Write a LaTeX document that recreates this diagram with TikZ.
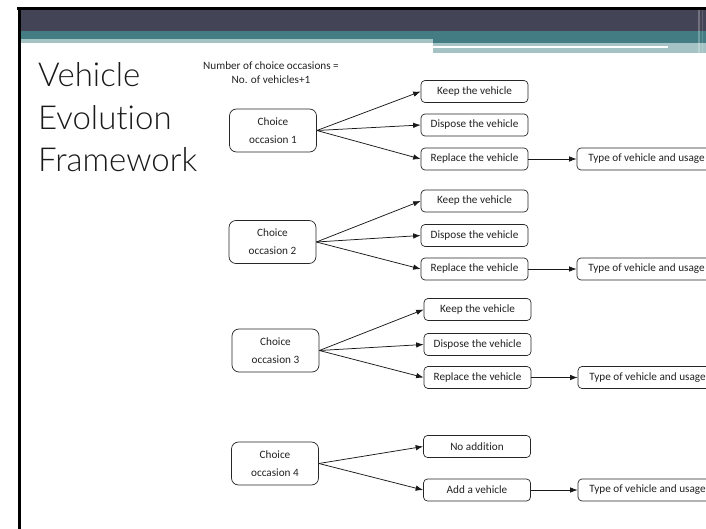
\documentclass[tikz,border=0pt]{standalone}
\usepackage{fontspec}
\setmainfont{Carlito}[Ligatures=NoCommon]
\newfontfamily\titlefont{Lato}[UprightFont=* Light, Ligatures=NoCommon]
\usetikzlibrary{arrows.meta}
\definecolor{banddark}{HTML}{434455}
\definecolor{bandteal}{HTML}{437D83}
\definecolor{bandlight}{HTML}{A5C3C5}
\definecolor{inkgray}{HTML}{222222}
\tikzset{
  optbox/.style={draw=black!85, line width=0.7pt, rounded corners=4pt, fill=white,
    minimum width=107pt, minimum height=22pt, inner sep=0pt, text=inkgray,
    font=\fontsize{11.2}{13}\selectfont},
  typebox/.style={optbox, minimum width=139pt},
  choicebox/.style={draw=black!85, line width=0.7pt, rounded corners=7pt, fill=white,
    minimum width=87pt, minimum height=43pt, inner sep=0pt, align=center, text=inkgray,
    font=\fontsize{11.2}{18}\selectfont},
  link/.style={-{Latex[length=7.5pt,width=5.5pt]}, line width=0.75pt, draw=black!90}
}
\begin{document}
\begin{tikzpicture}[x=1pt,y=-1pt]
\useasboundingbox (0,0) rectangle (706,529);
\clip (0,0) rectangle (706,529);
% slide header bands
\fill[black] (17,7) rectangle (706,10);
\fill[black] (17.5,7) rectangle (20.5,529);
\fill[banddark] (20.5,10) rectangle (706,31);
\fill[bandteal] (20.5,31) rectangle (706,39);
\fill[bandteal] (433,39) rectangle (706,43);
\fill[bandlight] (20.5,39) rectangle (433,43);
\fill[bandlight] (433,43) rectangle (706,53);
\fill[white] (433,46.5) rectangle (668,48);
\fill[white, opacity=0.25] (698,10) rectangle (700,53);
\fill[white, opacity=0.15] (702,10) rectangle (703,53);

% title
\node[anchor=base west, inner sep=0pt, font=\titlefont\fontsize{33}{42.5}\selectfont, align=left, text=black!90]
  (title) at (38,172) {Vehicle\\Evolution\\Framework};

% note
\node[align=center, inner sep=0pt, text=inkgray, font=\fontsize{11.2}{14}\selectfont]
  (note) at (271,73) {Number of choice occasions =\\No. of vehicles+1};

% occasion 1
\node[choicebox] (c1) at (273,130.5) {Choice\\occasion 1};
\node[optbox] (k1) at (474.5,91.5) {Keep the vehicle};
\node[optbox] (d1) at (474.5,125) {Dispose the vehicle};
\node[optbox] (r1) at (474.5,159) {Replace the vehicle};
\node[typebox] (t1) at (646.5,159) {Type of vehicle and usage};

% occasion 2
\node[choicebox] (c2) at (272.5,242) {Choice\\occasion 2};
\node[optbox] (k2) at (474.5,201) {Keep the vehicle};
\node[optbox] (d2) at (474.5,235.5) {Dispose the vehicle};
\node[optbox] (r2) at (474.5,269) {Replace the vehicle};
\node[typebox] (t2) at (646.5,269) {Type of vehicle and usage};

% occasion 3
\node[choicebox] (c3) at (275.5,350.5) {Choice\\occasion 3};
\node[optbox] (k3) at (477.5,309.5) {Keep the vehicle};
\node[optbox] (d3) at (477.5,344.5) {Dispose the vehicle};
\node[optbox] (r3) at (477.5,377.5) {Replace the vehicle};
\node[typebox] (t3) at (647.5,377.5) {Type of vehicle and usage};

% occasion 4
\node[choicebox] (c4) at (275,463.5) {Choice\\occasion 4};
\node[optbox] (n4) at (477,446.5) {No addition};
\node[optbox] (a4) at (477,490) {Add a vehicle};
\node[typebox] (t4) at (647.5,490) {Type of vehicle and usage};

% connectors
\foreach \c/\k/\d/\r/\t in {c1/k1/d1/r1/t1, c2/k2/d2/r2/t2, c3/k3/d3/r3/t3}{
  \draw[link] (\c.east) -- (\k.west);
  \draw[link] (\c.east) -- (\d.west);
  \draw[link] (\c.east) -- (\r.west);
  \draw[link] (\r.east) -- (\t.west);
}
\draw[link] (c4.east) -- (n4.west);
\draw[link] (c4.east) -- (a4.west);
\draw[link] (a4.east) -- (t4.west);
\end{tikzpicture}
\end{document}
